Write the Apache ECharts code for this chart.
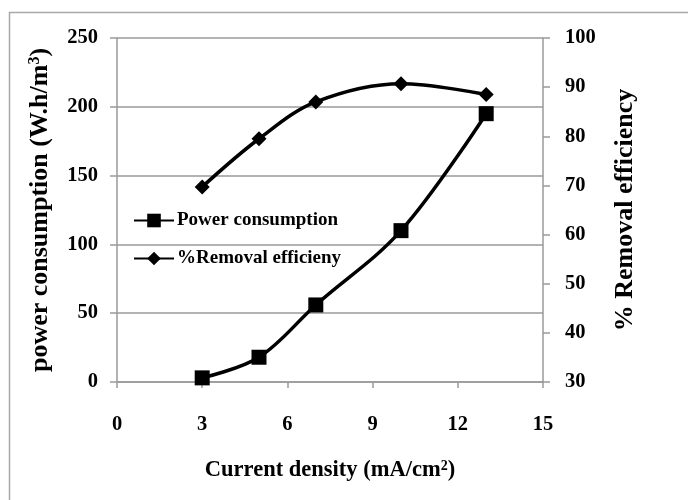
<!DOCTYPE html>
<html>
<head>
<meta charset="utf-8">
<script src="https://cdn.jsdelivr.net/npm/echarts@6/dist/echarts.min.js"></script>
<style>
html,body{margin:0;padding:0;background:#fff;}
#chart{width:688px;height:500px;}
</style>
</head>
<body>
<div id="chart"></div>
<script>
var currentDensity = [3, 5, 7, 10, 13];
var powerConsumption = [3, 18, 56, 110, 195];
var removalEfficiency = [69.7, 79.5, 87, 90.7, 88.5];
var xTicks = [0, 3, 6, 9, 12, 15];

var FONT = '"Liberation Serif", "Times New Roman", serif';
var GRID_COLOR = '#9a9a9a';

var chart = echarts.init(document.getElementById('chart'));
chart.setOption({
  animation: false,
  backgroundColor: '#fff',
  graphic: [{
    type: 'rect', z: -1,
    shape: {x: 9.5, y: 12.5, width: 700, height: 520},
    style: {fill: 'none', stroke: '#a8a8a8', lineWidth: 1.5}
  }],
  grid: {left: 117, right: 145, top: 38, bottom: 118, containLabel: false},
  legend: {
    left: 128, top: 206, orient: 'vertical', itemGap: 19,
    itemWidth: 40, itemHeight: 17,
    textStyle: {fontFamily: FONT, fontWeight: 'bold', fontSize: 19, color: '#000', padding: [0, 0, 0, -2]},
    data: ['Power consumption', '%Removal efficieny']
  },
  xAxis: {
    type: 'value', min: 0, max: 15, interval: 3,
    name: 'Current density (mA/cm{sup|2})',
    nameLocation: 'middle', nameGap: 77,
    nameTextStyle: {fontFamily: FONT, fontWeight: 'bold', fontSize: 22.5, color: '#000',
      rich: {sup: {fontFamily: FONT, fontWeight: 'bold', fontSize: 14, verticalAlign: 'top', padding: [0, 0, 9, 0], color: '#000'}}},
    axisLine: {show: true, onZero: false, lineStyle: {color: GRID_COLOR, width: 1.5}},
    axisTick: {show: true, inside: false, length: 6, lineStyle: {color: GRID_COLOR, width: 1.5}},
    axisLabel: {fontFamily: FONT, fontWeight: 'bold', fontSize: 20.5, color: '#000', margin: 32},
    splitLine: {show: false}
  },
  yAxis: [{
    type: 'value', min: 0, max: 250, interval: 50, position: 'left',
    name: 'power consumption (W.h/m{sup|3})',
    nameLocation: 'middle', nameGap: 63, nameRotate: 90,
    nameTextStyle: {fontFamily: FONT, fontWeight: 'bold', fontSize: 26, color: '#000',
      rich: {sup: {fontFamily: FONT, fontWeight: 'bold', fontSize: 16, verticalAlign: 'top', padding: [0, 0, 11, 0], color: '#000'}}},
    axisLine: {show: true, lineStyle: {color: GRID_COLOR, width: 1.5}},
    axisTick: {show: true, inside: false, length: 7, lineStyle: {color: GRID_COLOR, width: 1.5}},
    axisLabel: {fontFamily: FONT, fontWeight: 'bold', fontSize: 20.5, color: '#000', margin: 19},
    splitLine: {show: true, lineStyle: {color: GRID_COLOR, width: 1.5}}
  }, {
    type: 'value', min: 30, max: 100, interval: 10, position: 'right',
    name: '% Removal efficiency',
    nameLocation: 'middle', nameGap: 69, nameRotate: 90,
    nameTextStyle: {fontFamily: FONT, fontWeight: 'bold', fontSize: 26, color: '#000'},
    axisLine: {show: true, lineStyle: {color: GRID_COLOR, width: 1.5}},
    axisTick: {show: true, inside: false, length: 7, lineStyle: {color: GRID_COLOR, width: 1.5}},
    axisLabel: {fontFamily: FONT, fontWeight: 'bold', fontSize: 20.5, color: '#000', margin: 22},
    splitLine: {show: false}
  }],
  series: [{
    name: 'Power consumption', type: 'line', yAxisIndex: 0,
    data: currentDensity.map(function (x, i) { return [x, powerConsumption[i]]; }),
    smooth: 0.35, symbol: 'rect', symbolSize: 15,
    lineStyle: {color: '#000', width: 3.5},
    itemStyle: {color: '#000'}
  }, {
    name: '%Removal efficieny', type: 'line', yAxisIndex: 1,
    data: currentDensity.map(function (x, i) { return [x, removalEfficiency[i]]; }),
    smooth: 0.35, symbol: 'diamond', symbolSize: 15,
    lineStyle: {color: '#000', width: 3.5},
    itemStyle: {color: '#000'}
  }]
});
</script>
</body>
</html>
